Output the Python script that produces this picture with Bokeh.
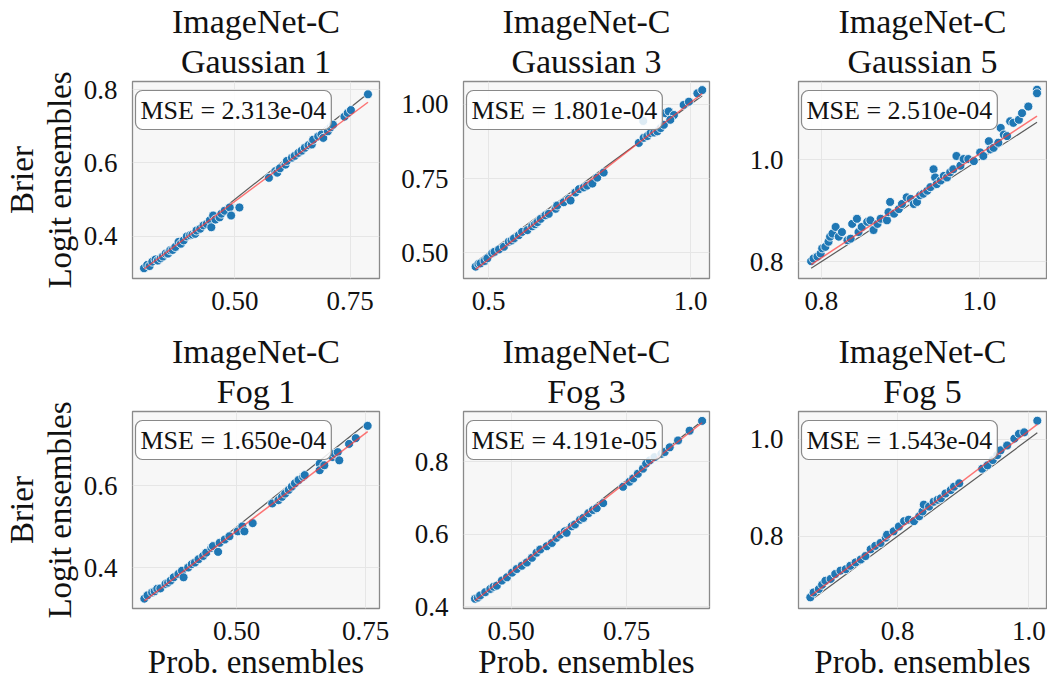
from bokeh.plotting import figure
from bokeh.layouts import column, row
from bokeh.models import FixedTicker, Label, Title, Range1d, NumeralTickFormatter
from bokeh.embed import file_html
from bokeh.resources import INLINE

FONT = "Liberation Serif"

# ---------------- data ----------------
title_top = "ImageNet-C"
title_sub = ["Gaussian 1", "Gaussian 3", "Gaussian 5", "Fog 1", "Fog 3", "Fog 5"]
mse_text = ["MSE = 2.313e-04", "MSE = 1.801e-04", "MSE = 2.510e-04",
            "MSE = 1.650e-04", "MSE = 4.191e-05", "MSE = 1.543e-04"]
x_label = "Prob. ensembles"
y_label = "Brier\nLogit ensembles"

# fitted (red) line: slope, intercept
fit_slope = [0.937, 1.057, 1.017, 0.952, 1.000, 1.023]
fit_intercept = [0.026, -0.051, -0.006, 0.014, -0.005, -0.006]

# axis limits
x_lim = [(0.278, 0.814), (0.438, 1.047), (0.771, 1.085),
         (0.298, 0.777), (0.397, 0.929), (0.649, 1.027)]
y_lim = [(0.284, 0.822), (0.413, 1.077), (0.767, 1.153),
         (0.301, 0.781), (0.395, 0.939), (0.651, 1.057)]

x_ticks = [[0.5, 0.75], [0.5, 1.0], [0.8, 1.0], [0.5, 0.75], [0.5, 0.75], [0.8, 1.0]]
y_ticks = [[0.4, 0.6, 0.8], [0.5, 0.75, 1.0], [0.8, 1.0], [0.4, 0.6], [0.4, 0.6, 0.8], [0.8, 1.0]]
x_fmt = ["0.00", "0.0", "0.0", "0.00", "0.00", "0.0"]
y_fmt = ["0.0", "0.00", "0.0", "0.0", "0.0", "0.0"]

gauss1_prob = [0.303, 0.310, 0.315, 0.321, 0.328, 0.333, 0.339, 0.344, 0.350, 0.355, 0.360, 0.365,
               0.371, 0.378, 0.383, 0.389, 0.396, 0.403, 0.408, 0.414, 0.417, 0.425, 0.432, 0.439,
               0.446, 0.449, 0.453, 0.458, 0.467, 0.471, 0.478, 0.489, 0.492, 0.510, 0.574, 0.588,
               0.592, 0.598, 0.610, 0.613, 0.624, 0.630, 0.638, 0.645, 0.652, 0.660, 0.667, 0.670,
               0.681, 0.688, 0.692, 0.702, 0.708, 0.713, 0.738, 0.745, 0.752, 0.789]
gauss1_logit = [0.312, 0.321, 0.318, 0.330, 0.336, 0.333, 0.339, 0.344, 0.352, 0.352, 0.361, 0.362,
                0.370, 0.384, 0.379, 0.388, 0.399, 0.402, 0.404, 0.406, 0.415, 0.420, 0.429, 0.433,
                0.443, 0.424, 0.456, 0.445, 0.451, 0.461, 0.469, 0.478, 0.456, 0.478, 0.559, 0.577,
                0.573, 0.585, 0.595, 0.605, 0.614, 0.619, 0.627, 0.633, 0.641, 0.648, 0.650, 0.663,
                0.672, 0.677, 0.668, 0.686, 0.697, 0.704, 0.726, 0.736, 0.744, 0.787]

gauss3_prob = [0.468, 0.475, 0.480, 0.490, 0.497, 0.509, 0.515, 0.526, 0.538, 0.550, 0.557, 0.563,
               0.575, 0.583, 0.596, 0.608, 0.615, 0.621, 0.629, 0.641, 0.649, 0.666, 0.670, 0.686,
               0.699, 0.703, 0.715, 0.724, 0.736, 0.744, 0.757, 0.769, 0.785, 0.872, 0.884, 0.893,
               0.901, 0.910, 0.918, 0.926, 0.934, 0.938, 0.946, 0.959, 0.883, 0.950, 0.983, 0.996,
               1.017, 1.029]
gauss3_logit = [0.453, 0.462, 0.464, 0.472, 0.481, 0.498, 0.503, 0.511, 0.520, 0.537, 0.541, 0.548,
                0.559, 0.570, 0.576, 0.589, 0.596, 0.603, 0.614, 0.626, 0.631, 0.648, 0.659, 0.670,
                0.681, 0.676, 0.703, 0.714, 0.720, 0.726, 0.733, 0.753, 0.770, 0.870, 0.887, 0.893,
                0.903, 0.905, 0.909, 0.920, 0.931, 0.970, 0.976, 0.964, 0.944, 0.948, 0.998, 1.009,
                1.037, 1.048]

gauss5_prob = [0.787, 0.790, 0.795, 0.799, 0.801, 0.805, 0.809, 0.811, 0.814, 0.818, 0.822, 0.826,
               0.833, 0.837, 0.839, 0.845, 0.847, 0.851, 0.858, 0.862, 0.866, 0.871, 0.875, 0.883,
               0.885, 0.887, 0.892, 0.898, 0.902, 0.908, 0.913, 0.917, 0.921, 0.925, 0.929, 0.934,
               0.938, 0.942, 0.944, 0.946, 0.951, 0.955, 0.959, 0.963, 0.967, 0.971, 0.976, 0.980,
               0.986, 0.993, 1.001, 1.005, 1.012, 1.014, 1.018, 1.024, 1.027, 1.031, 1.035, 1.039,
               1.043, 1.050, 1.054, 1.062, 1.073, 1.073]
gauss5_logit = [0.801, 0.806, 0.810, 0.816, 0.826, 0.829, 0.839, 0.849, 0.855, 0.868, 0.849, 0.858,
                0.842, 0.845, 0.874, 0.884, 0.858, 0.868, 0.878, 0.881, 0.862, 0.874, 0.884, 0.881,
                0.897, 0.917, 0.894, 0.903, 0.913, 0.926, 0.923, 0.913, 0.917, 0.930, 0.933, 0.939,
                0.946, 0.981, 0.965, 0.952, 0.959, 0.968, 0.965, 0.975, 0.981, 1.007, 0.988, 1.001,
                1.001, 0.997, 1.014, 1.007, 1.036, 1.020, 1.023, 1.033, 1.062, 1.049, 1.046, 1.075,
                1.072, 1.078, 1.091, 1.104, 1.137, 1.130]

fog1_prob = [0.321, 0.327, 0.336, 0.341, 0.346, 0.352, 0.362, 0.367, 0.372, 0.378, 0.387, 0.394,
             0.397, 0.406, 0.413, 0.419, 0.426, 0.435, 0.441, 0.451, 0.454, 0.464, 0.467, 0.477,
             0.486, 0.502, 0.511, 0.515, 0.531, 0.569, 0.581, 0.588, 0.594, 0.601, 0.607, 0.613,
             0.620, 0.629, 0.632, 0.661, 0.661, 0.670, 0.686, 0.690, 0.696, 0.699, 0.718, 0.731,
             0.754]
fog1_logit = [0.325, 0.333, 0.340, 0.343, 0.349, 0.350, 0.361, 0.364, 0.369, 0.377, 0.385, 0.393,
              0.377, 0.401, 0.409, 0.413, 0.421, 0.429, 0.437, 0.449, 0.453, 0.439, 0.461, 0.469,
              0.477, 0.489, 0.501, 0.489, 0.509, 0.557, 0.565, 0.573, 0.581, 0.590, 0.598, 0.606,
              0.614, 0.622, 0.626, 0.654, 0.638, 0.650, 0.670, 0.678, 0.682, 0.662, 0.702, 0.716,
              0.746]

fog3_prob = [0.422, 0.428, 0.433, 0.444, 0.455, 0.462, 0.469, 0.480, 0.491, 0.502, 0.512, 0.523,
             0.534, 0.545, 0.555, 0.563, 0.577, 0.588, 0.598, 0.606, 0.616, 0.620, 0.631, 0.638,
             0.649, 0.656, 0.667, 0.677, 0.685, 0.699, 0.742, 0.756, 0.764, 0.774, 0.785, 0.792,
             0.800, 0.810, 0.825, 0.832, 0.843, 0.861, 0.886, 0.913]
fog3_logit = [0.422, 0.425, 0.431, 0.440, 0.449, 0.455, 0.458, 0.472, 0.481, 0.494, 0.504, 0.513,
              0.522, 0.535, 0.549, 0.558, 0.567, 0.576, 0.590, 0.599, 0.608, 0.604, 0.622, 0.627,
              0.640, 0.645, 0.658, 0.667, 0.672, 0.686, 0.731, 0.745, 0.754, 0.767, 0.781, 0.795,
              0.804, 0.813, 0.822, 0.827, 0.840, 0.859, 0.886, 0.913]

fog5_prob = [0.667, 0.672, 0.680, 0.685, 0.690, 0.698, 0.705, 0.713, 0.721, 0.728, 0.736, 0.744,
             0.751, 0.759, 0.766, 0.774, 0.782, 0.784, 0.794, 0.802, 0.810, 0.817, 0.825, 0.833,
             0.838, 0.840, 0.848, 0.855, 0.861, 0.866, 0.873, 0.881, 0.886, 0.894, 0.929, 0.937,
             0.945, 0.952, 0.957, 0.967, 0.978, 0.985, 0.993, 1.013]
fog5_logit = [0.674, 0.684, 0.691, 0.700, 0.708, 0.712, 0.722, 0.729, 0.732, 0.739, 0.746, 0.752,
              0.759, 0.773, 0.780, 0.786, 0.797, 0.803, 0.810, 0.820, 0.831, 0.834, 0.831, 0.841,
              0.851, 0.865, 0.861, 0.871, 0.875, 0.878, 0.888, 0.895, 0.902, 0.909, 0.939, 0.946,
              0.957, 0.967, 0.977, 0.987, 1.001, 1.011, 1.014, 1.038]

prob_series = [gauss1_prob, gauss3_prob, gauss5_prob, fog1_prob, fog3_prob, fog5_prob]
logit_series = [gauss1_logit, gauss3_logit, gauss5_logit, fog1_logit, fog3_logit, fog5_logit]

# ---------------- layout (page has no margin in Bokeh's template) ----------------
FRAME_W = [251, 246, 248]
BORDER_L = [128, 68, 68]
BORDER_R = [16, 21, 1]
FRAME_H = 198
BORDER_T = [80, 80]
BORDER_B = [52, 74]

BLUE = "#1f77b4"
TXT = "#111111"


def make_panel(i):
    r, c = divmod(i, 3)
    W = BORDER_L[c] + FRAME_W[c] + BORDER_R[c]
    H = BORDER_T[r] + FRAME_H + BORDER_B[r]
    p = figure(width=W, height=H,
               x_range=Range1d(*x_lim[i]), y_range=Range1d(*y_lim[i]),
               output_backend="svg", toolbar_location=None,
               min_border_left=BORDER_L[c], min_border_right=BORDER_R[c],
               min_border_top=BORDER_T[r], min_border_bottom=BORDER_B[r],
               background_fill_color="#f7f7f7", border_fill_color="white",
               outline_line_color="#8a8a8a", outline_line_width=1.3)

    # titles (two lines): p.title is the outer one, the added one sits next to the frame
    p.title.text = title_top
    p.title.align = "center"
    p.title.text_font = FONT
    p.title.text_font_size = "34px"
    p.title.text_font_style = "normal"
    p.title.text_color = TXT
    p.title.standoff = 0
    p.add_layout(Title(text=title_sub[i], align="center", text_font=FONT,
                       text_font_size="34px", text_font_style="normal",
                       text_color=TXT, standoff=3), "above")

    # grid
    p.grid.grid_line_color = "#e6e6e6"
    p.grid.grid_line_width = 1

    # axes
    for ax in (p.xaxis, p.yaxis):
        ax.axis_line_color = None
        ax.major_tick_line_color = None
        ax.minor_tick_line_color = None
        ax.major_label_text_font = FONT
        ax.major_label_text_font_size = "27px"
        ax.major_label_text_color = TXT
        ax.axis_label_text_font = FONT
        ax.axis_label_text_font_size = "33px"
        ax.axis_label_text_font_style = "normal"
        ax.axis_label_text_color = TXT
    p.xaxis.ticker = FixedTicker(ticks=x_ticks[i])
    p.yaxis.ticker = FixedTicker(ticks=y_ticks[i])
    p.xaxis.formatter = NumeralTickFormatter(format=x_fmt[i])
    p.yaxis.formatter = NumeralTickFormatter(format=y_fmt[i])
    p.xaxis.major_label_standoff = 7
    p.yaxis.major_label_standoff = 9
    if r == 1:
        p.xaxis.axis_label = x_label
        p.xaxis.axis_label_standoff = 1
    if c == 0:
        p.yaxis.axis_label = y_label
        p.yaxis.axis_label_standoff = 3
        p.yaxis.axis_label_text_line_height = 1.05

    xs = prob_series[i]
    ys = logit_series[i]
    lo, hi = min(xs), max(xs)

    # identity line
    p.line([lo, hi], [lo, hi], line_color="#333333", line_alpha=0.8, line_width=1.2)
    # points
    p.scatter(xs, ys, size=9, fill_color=BLUE, line_color="white", line_width=0.8)
    # fitted line
    p.line([lo, hi], [fit_slope[i] * lo + fit_intercept[i], fit_slope[i] * hi + fit_intercept[i]],
           line_color="#ff3b3b", line_alpha=0.7, line_width=1.5)

    lab = Label(x=x_lim[i][0], y=y_lim[i][1], x_offset=3, y_offset=-9,
                text=mse_text[i], text_align="left", text_baseline="top",
                text_font=FONT, text_font_size="26px", text_color=TXT,
                background_fill_color="white", background_fill_alpha=0.85,
                border_line_color="#888888", border_line_width=1.2,
                border_radius=7, padding=5)
    p.add_layout(lab)
    return p


panels = [make_panel(i) for i in range(6)]
layout = column(row(*panels[:3]), row(*panels[3:]))

open("out.html", "w").write(file_html(layout, INLINE))
